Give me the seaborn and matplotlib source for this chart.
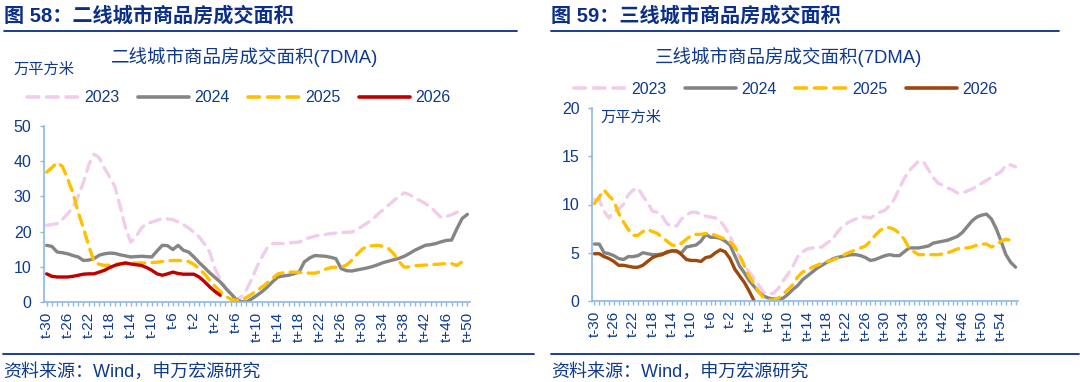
import numpy as np
import pandas as pd
import seaborn as sns
import matplotlib.pyplot as plt
from matplotlib.lines import Line2D
from matplotlib.ticker import MultipleLocator

nan = np.nan

# ---- data: tier-2 cities (t-30 .. t+50) ----
labels_l = [f"t{i:+d}" for i in range(-30, 51)]
l2023 = [21.8, 22, 22.3, 23.5, 25, 27, 30, 34, 39, 42, 41, 38, 35.5, 32.7, 27, 21, 17, 18.5, 21, 22.3,
         22.7, 23.2, 23.7, 23.6, 23.4, 22.8, 22, 21, 19.8, 18.5, 16.5, 14.2, 9.5, 6.5, 4, 2, 0.5, 1.5, 3.5, 6.5,
         10, 13, 15.5, 16.6, 16.6, 16.6, 16.8, 16.9, 17, 17.8, 18.3, 18.7, 19, 19.2, 19.4, 19.6, 19.7, 19.8, 19.9, 20.5,
         21.5, 22.5, 23.5, 25, 26.2, 27.5, 28.8, 30, 31, 30.5, 29.5, 28.8, 28, 27, 25.5, 24, 24.3, 24.8, 25.5, 26.2,
         nan]
l2024 = [16.1, 15.8, 14.2, 14, 13.7, 13.2, 12.8, 11.8, 11.9, 12.3, 13.3, 13.7, 13.9, 13.8, 13.4, 13.1, 12.8, 12.9, 13, 12.9,
         12.8, 14.5, 16.1, 16, 14.9, 16.1, 14.7, 14.2, 12.8, 11.2, 9.8, 8.3, 7, 5.7, 4, 2.4, 0.8, 0.1, 0, 0.9,
         1.9, 3, 4.3, 5.8, 7.1, 7.4, 7.6, 8, 8.5, 11.4, 12.5, 13.2, 13.1, 13, 12.7, 12.3, 9.5, 8.9, 8.8, 9.1,
         9.4, 9.7, 10.1, 10.6, 11.2, 11.6, 12, 12.4, 13, 13.8, 14.7, 15.4, 16.1, 16.3, 16.6, 17.1, 17.5, 17.6, 20.8, 23.7,
         24.9]
l2025 = [36.9, 38.2, 39.6, 38.5, 35, 31, 25.5, 21, 16, 11.5, 10.7, 10.4, 10.5, 10.7, 10.9, 11, 11.1, 11.1, 11.1, 11.1,
         11.2, 11.3, 11.5, 11.7, 11.8, 11.8, 11.7, 11.5, 10.7, 9.5, 8, 6.2, 4.5, 3, 1.7, 0.8, 0.5, 0.5, 1.3, 2.2,
         3.3, 4.3, 5.5, 6.8, 8, 8.3, 8.5, 8.5, 8.4, 8.3, 8.2, 8.2, 8.6, 9.3, 9.8, 9.9, 9.9, 10.5, 11.8, 13.5,
         15, 15.8, 16, 16.1, 15.8, 15.2, 13.7, 11.5, 9.9, 10, 10.3, 10.4, 10.5, 10.6, 10.7, 10.8, 10.9, 10.9, 10.4, 11.4,
         nan]
l2026 = [8, 7.3, 7.1, 7.1, 7.1, 7.3, 7.6, 7.9, 8, 8, 8.5, 9, 9.8, 10.4, 10.8, 11.1, 10.8, 10.6, 10.4, 9.8,
         9, 8, 7.6, 8, 8.5, 8.1, 7.9, 7.9, 7.9, 7.1, 5.8, 4.3, 3, 1.9]

# ---- data: tier-3 cities (t-30 .. t+57) ----
labels_r = [f"t{i:+d}" for i in range(-30, 58)]
r2023 = [10.5, 10.5, 9.3, 8.6, 9.3, 9.5, 10, 11, 11.5, 11.7, 10.9, 10.2, 9.3, 9.2, 8.8, 8, 7.7, 7.8, 8.5, 8.9,
         9.2, 9.2, 9, 8.8, 8.7, 8.6, 8.3, 7.6, 6.8, 5.5, 4.6, 3.7, 3, 2.3, 1.6, 0.9, 0.7, 0.8, 1.3, 2.1,
         2.8, 3.6, 4.6, 5.1, 5.4, 5.5, 5.5, 5.6, 6, 6.3, 7, 7.6, 8, 8.3, 8.5, 8.7, 8.7, 8.6, 8.9, 9.2,
         9.4, 9.9, 10.6, 11.7, 12.7, 13.5, 14, 14.5, 14.4, 13.6, 12.8, 12.2, 12, 11.7, 11.5, 11.2, 11.2, 11.4, 11.6, 11.9,
         12.2, 12.5, 12.8, 13.1, 13.4, 14.1, 14.1, 13.9]
r2024 = [5.9, 5.9, 5, 4.9, 4.7, 4.4, 4.3, 4.6, 4.6, 4.7, 5, 4.9, 4.8, 4.8, 4.9, 5, 5.2, 5.1, 5, 5.6,
         5.7, 5.8, 6.2, 6.9, 6.6, 6.6, 6.5, 6.2, 5.8, 4.7, 3.6, 2.9, 2.1, 1.5, 0.9, 0.5, 0.3, 0.2, 0.2, 0.3,
         0.7, 1.2, 1.6, 2.2, 2.6, 3, 3.4, 3.7, 4, 4.3, 4.5, 4.6, 4.7, 4.8, 4.8, 4.7, 4.5, 4.2, 4.3, 4.5,
         4.7, 4.8, 4.7, 4.7, 5.1, 5.5, 5.5, 5.5, 5.6, 5.7, 6, 6.1, 6.2, 6.3, 6.5, 6.7, 7.1, 7.7, 8.3, 8.7,
         8.9, 9, 8.5, 7.5, 6.2, 4.8, 4, 3.5]
r2025 = [10.1, 10.8, 11.5, 10.9, 10.4, 9.1, 8.2, 7.4, 6.8, 6.8, 7.2, 7.4, 7.2, 7, 6.6, 6.2, 5.8, 5.7, 6, 6.4,
         6.8, 6.9, 6.9, 7, 7, 6.8, 6.6, 6.4, 6.1, 5.6, 4.7, 3.6, 2.5, 1.8, 0.9, 0.3, 0.1, 0.1, 0.3, 0.7,
         1.2, 1.7, 2.5, 3, 3.2, 3.5, 3.7, 3.9, 4.1, 4.2, 4.4, 4.6, 4.9, 5.1, 5.3, 5.5, 5.7, 6.2, 6.8, 7.3,
         7.6, 7.6, 7.4, 7, 6.4, 5.5, 5.1, 4.8, 4.8, 4.8, 4.8, 4.8, 4.9, 5, 5.2, 5.4, 5.5, 5.5, 5.6, 5.8,
         5.9, 5.9, 5.6, 5.8, 6.2, 6.4, 6.3, 6.1]
r2026 = [4.9, 4.9, 4.6, 4.4, 4.1, 3.7, 3.7, 3.6, 3.5, 3.5, 3.7, 4.1, 4.5, 4.7, 4.8, 5.1, 5.2, 5.2, 4.8, 4.3,
         4.2, 4.2, 4.1, 4.5, 4.6, 5, 5.3, 5.1, 4.4, 3.3, 2.6, 1.9, 1, 0]

years = ["2023", "2024", "2025", "2026"]
text_blue = "#0F3A8C"
spine_blue = "#8DB8E4"


def to_long(series):
    rows = []
    for year, vals in zip(years, series):
        for i, v in enumerate(vals):
            rows.append({"idx": i, "year": year, "value": v})
    return pd.DataFrame(rows)


sns.set_theme(style="white")
plt.rcParams["font.family"] = ["Liberation Sans", "Noto Sans CJK SC", "DejaVu Sans"]

fig = plt.figure(figsize=(10.8, 3.82), dpi=100)
W, H = 1080, 382


def fx(px):
    return px / W


def fy(py):
    return 1 - py / H


dashes = {"2023": (3.2, 2.2), "2024": "", "2025": (3.2, 2.2), "2026": ""}


def draw_panel(rect, labels, series, colors, ymax, ystep):
    ax = fig.add_axes(rect)
    df = to_long(series)
    sns.lineplot(data=df, x="idx", y="value", hue="year", style="year",
                 palette=dict(zip(years, colors)), dashes=dashes,
                 linewidth=2.4, legend=False, ax=ax, dash_capstyle="round")
    ax.set_xlim(-0.5, len(labels) - 0.5)
    ax.set_ylim(0, ymax)
    ax.set_xticks(range(0, len(labels), 4))
    ax.set_xticklabels(labels[::4], rotation=90)
    ax.xaxis.set_minor_locator(MultipleLocator(1))
    ax.yaxis.set_major_locator(MultipleLocator(ystep))
    ax.set_xlabel("")
    ax.set_ylabel("")
    for s in ["top", "right"]:
        ax.spines[s].set_visible(False)
    for s in ["left", "bottom"]:
        ax.spines[s].set_color(spine_blue)
        ax.spines[s].set_linewidth(1.2)
    ax.tick_params(axis="x", which="both", direction="out", length=3, width=1,
                   color=spine_blue, labelsize=11, labelcolor=text_blue, pad=4, bottom=True)
    ax.tick_params(axis="y", which="major", direction="out", length=3, width=1,
                   color=spine_blue, labelsize=11.5, labelcolor=text_blue, pad=6, left=True)
    ax.grid(False)
    return ax


def legend(cx, cy, colors):
    handles = []
    for y, c in zip(years, colors):
        ls = (0, dashes[y]) if dashes[y] else "-"
        handles.append(Line2D([], [], color=c, lw=2.6, linestyle=ls, dash_capstyle="round"))
    fig.legend(handles, years, loc="center", bbox_to_anchor=(fx(cx), fy(cy)), ncol=4,
               frameon=False, fontsize=11.5, handlelength=3.2, handletextpad=0.35,
               columnspacing=1.15, labelcolor=text_blue)


# left panel
cols_l = ["#F2CCEB", "#858585", "#FFC000", "#C00000"]
draw_panel([fx(44), fy(302), fx(470 - 44), fy(126) - fy(302)], labels_l,
           [l2023, l2024, l2025, l2026], cols_l, 50, 10)
# right panel
cols_r = ["#F2CCEB", "#858585", "#FFC000", "#9E480E"]
draw_panel([fx(592), fy(301), fx(1018 - 592), fy(108) - fy(301)], labels_r,
           [r2023, r2024, r2025, r2026], cols_r, 20, 5)

# headers
fig.text(fx(4), fy(16), "图 58：二线城市商品房成交面积", fontsize=14.5, fontweight="bold",
         color="#0B2F88", va="center", ha="left")
fig.text(fx(551), fy(16), "图 59：三线城市商品房成交面积", fontsize=14.5, fontweight="bold",
         color="#0B2F88", va="center", ha="left")
fig.add_artist(Line2D([fx(4), fx(517)], [fy(31), fy(31)], color="#0B2F88", lw=1.3))
fig.add_artist(Line2D([fx(551), fx(1059)], [fy(31), fy(31)], color="#0B2F88", lw=1.3))

# chart titles
fig.text(fx(245), fy(57), "二线城市商品房成交面积(7DMA)", fontsize=13.3, color=text_blue,
         ha="center", va="center")
fig.text(fx(788), fy(57), "三线城市商品房成交面积(7DMA)", fontsize=13.3, color=text_blue,
         ha="center", va="center")
fig.text(fx(13), fy(70), "万平方米", fontsize=11, color=text_blue, ha="left", va="center")
fig.text(fx(600), fy(118), "万平方米", fontsize=11, color=text_blue, ha="left", va="center")

legend(239, 98, cols_l)
legend(786, 89, cols_r)

# footer
fig.add_artist(Line2D([fx(3), fx(534)], [fy(354), fy(354)], color="#0B2F88", lw=1.3))
fig.add_artist(Line2D([fx(551), fx(1079)], [fy(354), fy(354)], color="#0B2F88", lw=1.3))
fig.text(fx(3), fy(372), "资料来源：Wind，申万宏源研究", fontsize=13, color=text_blue,
         ha="left", va="center")
fig.text(fx(551), fy(372), "资料来源：Wind，申万宏源研究", fontsize=13, color=text_blue,
         ha="left", va="center")

fig.savefig("out.png", dpi=100)
